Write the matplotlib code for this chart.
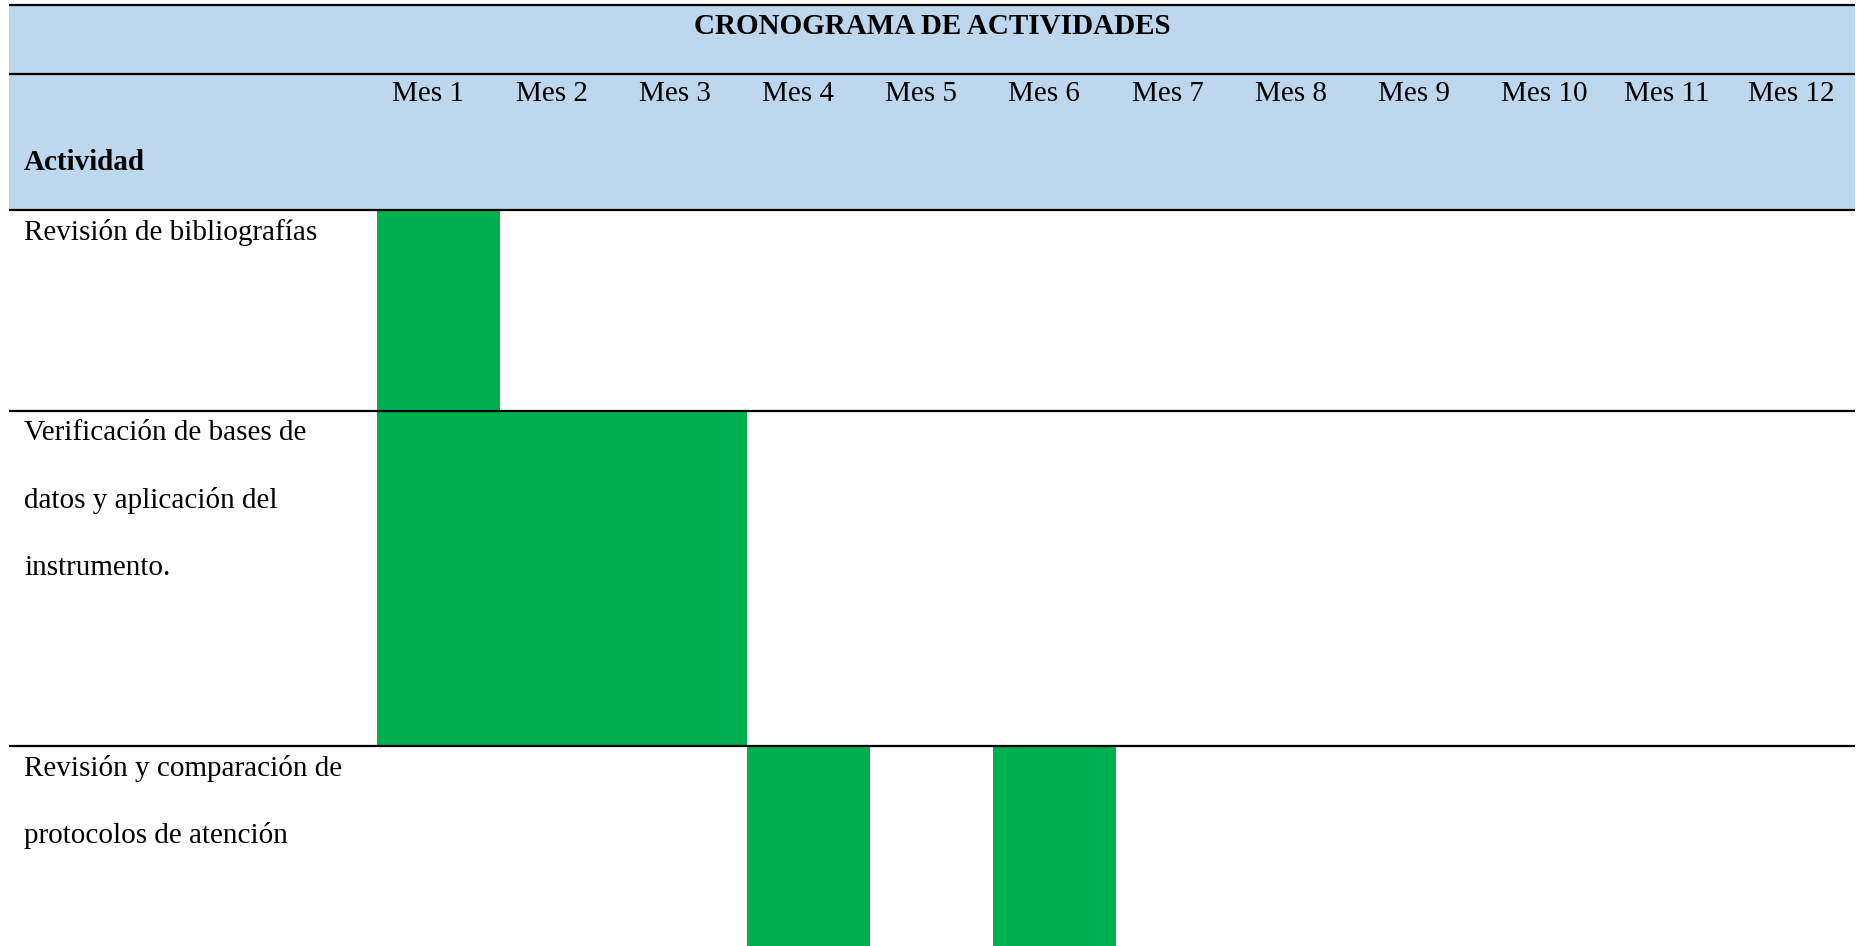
import matplotlib
matplotlib.use("Agg")
import matplotlib.pyplot as plt

# ── data ──────────────────────────────────────────────────────────────────────
title = "CRONOGRAMA DE ACTIVIDADES"
months = [f"Mes {i}" for i in range(1, 13)]
activities = [
    ["Revisión de bibliografías"],
    ["Verificación de bases de", "datos y aplicación del", "instrumento."],
    ["Revisión y comparación de", "protocolos de atención"],
]
active_months = [
    [1],
    [1, 2, 3],
    [4, 6],
]

# ── layout (pixels, figure is 1863x946 at dpi 100) ───────────────────────────
W, H = 1863, 946
col0_px = 377.0          # left edge of "Mes 1" column
col_w_px = 123.2         # width of one month column
left_px, right_px = 9.5, col0_px + 12 * col_w_px
header_lines = [5, 74, 210]
row_tops = [210, 411, 746]
row_bottoms = [411, 746, 1000]

BLUE = "#BDD7EE"
GREEN = "#00B050"
FONT = "Liberation Serif"
FS = 21

fig = plt.figure(figsize=(W / 100, H / 100), dpi=100)
ax = fig.add_axes([0, 0, 1, 1])
ax.set_xlim(-col0_px / col_w_px, (W - col0_px) / col_w_px)
ax.set_ylim(H, 0)
ax.axis("off")

x_left = -(col0_px - left_px) / col_w_px
x_right = 12 + (right_px - col0_px - 12 * col_w_px) / col_w_px

# header band
ax.bar(x_left, header_lines[2] - header_lines[0], bottom=header_lines[0],
       width=x_right - x_left, align="edge", color=BLUE, zorder=1)

# green activity cells
for r, months_on in enumerate(active_months):
    for m in months_on:
        ax.bar(m - 1, row_bottoms[r] - row_tops[r], bottom=row_tops[r],
               width=1, align="edge", color=GREEN, linewidth=0, zorder=2)

# horizontal rules
for y in header_lines + row_tops[1:]:
    ax.hlines(y, x_left, x_right, color="black", linewidth=1.6, zorder=3)

# texts
ax.text((x_left + x_right) / 2, 26, title, ha="center", va="center",
        fontsize=FS, fontweight="bold", family=FONT)
for i, m in enumerate(months):
    ax.text(i + 0.125, 94, m, ha="left", va="center", fontsize=FS, family=FONT)
ax.text(x_left + 14.5 / col_w_px, 162, "Actividad", ha="left", va="center",
        fontsize=FS, fontweight="bold", family=FONT)

line_gap = 67.7
for r, lines in enumerate(activities):
    for k, line in enumerate(lines):
        ax.text(x_left + 14.5 / col_w_px, row_tops[r] + 22 + k * line_gap, line,
                ha="left", va="center", fontsize=FS, family=FONT)

fig.savefig("out.png", dpi=100)
